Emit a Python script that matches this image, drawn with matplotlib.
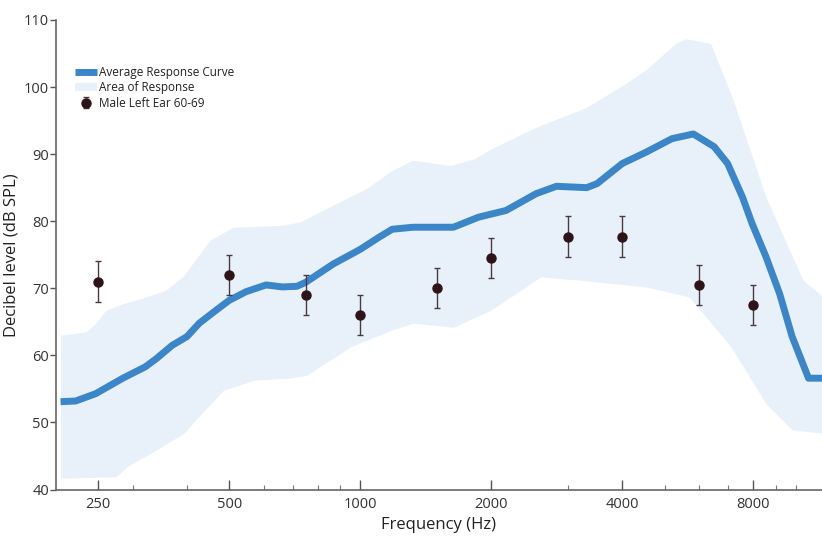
import numpy as np
import matplotlib
matplotlib.use("Agg")
import matplotlib.pyplot as plt
from matplotlib.ticker import FixedLocator, NullFormatter

plt.rcParams['font.family'] = ['Open Sans', 'DejaVu Sans']

# average response curve (Hz, dB SPL)
curve_freq = [205, 222, 247, 285, 321, 340, 370, 400, 427, 466, 500, 547, 608, 663, 716, 750,
              866, 1000, 1104, 1184, 1322, 1637, 1870, 2163, 2535, 2822, 3313, 3500, 4000,
              4540, 5200, 5825, 6500, 6980, 7550, 7950, 8550, 9190, 9820, 10710, 11600]
curve_db = [53.1, 53.2, 54.3, 56.6, 58.3, 59.5, 61.5, 62.8, 64.8, 66.7, 68.2, 69.5, 70.5, 70.2,
            70.3, 70.9, 73.6, 75.8, 77.6, 78.8, 79.1, 79.1, 80.6, 81.6, 84.1, 85.2, 85.0, 85.6,
            88.6, 90.3, 92.3, 93.0, 91.1, 88.6, 83.6, 79.6, 74.7, 69.2, 62.8, 56.6, 56.6]

# area of response, upper edge
upper_freq = [205, 222, 235, 247, 260, 285, 315, 357, 391, 452, 511, 664, 727, 866, 1036,
              1184, 1322, 1606, 1829, 2000, 2535, 3313, 3953, 4520, 5300, 5605, 6380, 7150,
              8550, 10400, 11600]
upper_db = [63.0, 63.3, 63.5, 64.8, 66.7, 67.7, 68.5, 69.7, 71.7, 77.2, 79.1, 79.4, 79.9, 82.4,
            84.9, 87.6, 89.1, 88.3, 89.3, 90.8, 94.0, 97.0, 100.0, 102.5, 106.5, 107.2, 106.5,
            98.5, 83.6, 71.2, 68.7]

# area of response, lower edge
lower_freq = [205, 275, 291, 330, 394, 418, 485, 570, 686, 752, 952, 1184, 1322, 1638,
              1991, 2600, 3200, 4540, 5700, 7100, 8550, 9820, 11600]
lower_db = [41.7, 41.9, 43.4, 45.4, 48.4, 50.3, 54.8, 56.3, 56.6, 57.0, 61.3, 63.8, 64.8, 64.2,
            66.7, 71.7, 71.2, 70.2, 68.7, 61.3, 52.8, 48.9, 48.4]

# male left ear 60-69
pt_freq = [250, 500, 750, 1000, 1500, 2000, 3000, 4000, 6000, 8000]
pt_db = [71, 72, 69, 66, 70, 74.5, 77.7, 77.7, 70.5, 67.5]
pt_err = [3, 3, 3, 3, 3, 3, 3, 3, 3, 3]

major_ticks = [250, 500, 1000, 2000, 4000, 8000]
minor_ticks = [300, 400, 600, 700, 800, 900, 3000, 5000, 6000, 7000, 9000, 10000]

fig = plt.figure(figsize=(8.22, 5.38), dpi=100)
ax = fig.add_axes([0.068, 0.090, 0.932, 0.873])

# band: both edges on a common log grid
grid = np.geomspace(205, 11600, 400)
up = np.interp(np.log(grid), np.log(upper_freq), upper_db)
lo = np.interp(np.log(grid), np.log(lower_freq), lower_db)
band = ax.fill_between(grid, lo, up, color='#e8f1fa', lw=0, label='Area of Response')

line, = ax.plot(curve_freq, curve_db, color='#3a86c8', lw=5, solid_capstyle='butt',
                solid_joinstyle='round', label='Average Response Curve')

eb = ax.errorbar(pt_freq, pt_db, yerr=pt_err, fmt='o', ms=6.5, color='#2e1419',
                 ecolor='#4a3a3e', elinewidth=1, capsize=2, capthick=1,
                 label='Male Left Ear 60-69')

ax.set_xscale('log')
ax.set_xlim(200, 11500)
ax.set_ylim(40, 110)
ax.xaxis.set_major_locator(FixedLocator(major_ticks))
ax.set_xticklabels([str(t) for t in major_ticks])
ax.xaxis.set_minor_locator(FixedLocator(minor_ticks))
ax.xaxis.set_minor_formatter(NullFormatter())
ax.set_yticks(range(40, 111, 10))

for s in ['top', 'right']:
    ax.spines[s].set_visible(False)
for s in ['left', 'bottom']:
    ax.spines[s].set_color('#666666')
    ax.spines[s].set_linewidth(1.2)

ax.tick_params(axis='x', which='major', direction='in', length=7, width=1, color='#555555',
               labelsize=10.5, pad=5, labelcolor='#333333')
ax.tick_params(axis='x', which='minor', direction='in', length=3.5, width=0.8, color='#777777')
ax.tick_params(axis='y', direction='out', length=4, width=1, color='#555555',
               labelsize=10.5, pad=1, labelcolor='#333333')

ax.set_xlabel('Frequency (Hz)', fontsize=12, color='#222222', labelpad=4)
ax.set_ylabel('Decibel level (dB SPL)', fontsize=12, color='#222222')
ax.yaxis.set_label_coords(-0.047, 0.5)

leg = ax.legend([line, band, eb], ['Average Response Curve', 'Area of Response', 'Male Left Ear 60-69'],
                loc='upper left', bbox_to_anchor=(75 / 822, 1 - 66 / 538),
                bbox_transform=fig.transFigure, frameon=False, fontsize=8.5,
                handlelength=1.9, handletextpad=0.15, labelspacing=0.2, borderpad=0,
                borderaxespad=0)
for t in leg.get_texts():
    t.set_color('#222222')

fig.savefig('out.png', dpi=100)
